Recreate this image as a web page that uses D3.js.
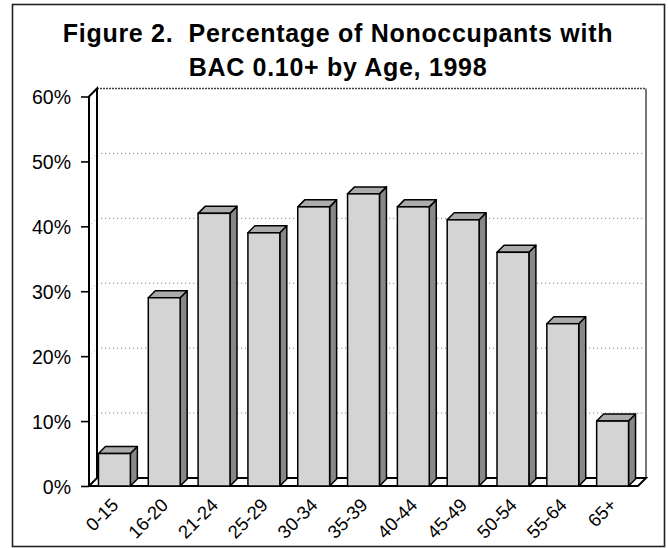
<!DOCTYPE html>
<html>
<head>
<meta charset="utf-8">
<script src="https://cdn.jsdelivr.net/npm/d3@7"></script>
<style>
  html, body { margin: 0; padding: 0; background: #fff; }
  svg { display: block; font-family: "Liberation Sans", Arial, sans-serif; }
</style>
</head>
<body>
<svg id="chart" width="668" height="548"></svg>
<script>
// data
var ageGroups = ["0-15", "16-20", "21-24", "25-29", "30-34", "35-39", "40-44", "45-49", "50-54", "55-64", "65+"];
var pctBAC = [5, 29, 42, 39, 43, 45, 43, 41, 36, 25, 10];
var yTicks = [0, 10, 20, 30, 40, 50, 60];
var titleLines = ["Figure 2.  Percentage of Nonoccupants with", "BAC 0.10+ by Age, 1998"];

var svg = d3.select("#chart");

// depth of the fake 3d box
var dx = 8, dy = 8;
var bdx = 7, bdy = 7;

var x = d3.scaleBand()
    .domain(ageGroups)
    .range([89, 638])
    .paddingInner(0.36)
    .paddingOuter(0.19);

var y = d3.scaleLinear()
    .domain([0, 60])
    .range([486, 96.5]);

// outer frame
svg.append("rect")
    .attr("x", 12.5).attr("y", 4.5)
    .attr("width", 652).attr("height", 542)
    .attr("fill", "none")
    .attr("stroke", "#222")
    .attr("stroke-width", 1.6);

// title
svg.append("g").selectAll("text")
    .data(titleLines)
    .enter().append("text")
    .attr("x", 338)
    .attr("y", function(d, i) { return 42 + i * 33.5; })
    .attr("text-anchor", "middle")
    .attr("font-size", "25px")
    .attr("font-weight", "bold")
    .attr("letter-spacing", "0.7px")
    .style("white-space", "pre")
    .text(function(d) { return d; });

var x0 = x.range()[0], x1 = x.range()[1];

// back wall gridlines (dotted)
var grid = svg.append("g");
grid.selectAll("line.grid")
    .data(yTicks.filter(function(d) { return d > 0 && d < 60; }))
    .enter().append("line")
    .attr("class", "grid")
    .attr("x1", x0 + dx).attr("x2", x1 + dx)
    .attr("y1", function(d) { return y(d) - dy; })
    .attr("y2", function(d) { return y(d) - dy; })
    .attr("stroke", "#888")
    .attr("stroke-width", 1)
    .attr("stroke-dasharray", "1.2,2.8");
// little diagonal on the side wall
grid.selectAll("line.side")
    .data(yTicks.filter(function(d) { return d > 0 && d < 60; }))
    .enter().append("line")
    .attr("class", "side")
    .attr("x1", x0).attr("x2", x0 + dx)
    .attr("y1", function(d) { return y(d); })
    .attr("y2", function(d) { return y(d) - dy; })
    .attr("stroke", "#999")
    .attr("stroke-width", 1)
    .attr("stroke-dasharray", "1,2.5");

// top edge of the back wall
svg.append("line")
    .attr("x1", x0 + dx).attr("x2", x1 + dx)
    .attr("y1", y(60) - dy).attr("y2", y(60) - dy)
    .attr("stroke", "#444")
    .attr("stroke-width", 1.3)
    .attr("stroke-dasharray", "2,1");
// right edge of the back wall
svg.append("line")
    .attr("x1", x1 + dx).attr("x2", x1 + dx)
    .attr("y1", y(60) - dy).attr("y2", y(0) - dy)
    .attr("stroke", "#777")
    .attr("stroke-width", 2);

// side wall (left)
svg.append("path")
    .attr("d", "M" + x0 + "," + y(0) + "L" + x0 + "," + y(60) + "L" + (x0 + dx) + "," + (y(60) - dy) +
               "L" + (x0 + dx) + "," + (y(0) - dy))
    .attr("fill", "none")
    .attr("stroke", "#000")
    .attr("stroke-width", 2);

// floor
svg.append("path")
    .attr("d", "M" + x0 + "," + y(0) + "L" + (x0 + dx) + "," + (y(0) - dy) + "L" + (x1 + dx) + "," + (y(0) - dy) +
               "L" + x1 + "," + y(0) + "Z")
    .attr("fill", "#fff")
    .attr("stroke", "#000")
    .attr("stroke-width", 2)
    .attr("stroke-linejoin", "miter");

// y axis
var yAxis = svg.append("g")
    .attr("transform", "translate(" + x0 + ",0)")
    .call(d3.axisLeft(y).tickValues(yTicks).tickSize(8).tickFormat(function(d) { return d + "%"; }));
yAxis.select(".domain").remove();
yAxis.selectAll(".tick line").attr("stroke", "#000").attr("stroke-width", 1.6);
yAxis.selectAll(".tick text")
    .attr("x", -18)
    .attr("dy", "0.36em")
    .attr("font-size", "19.5px")
    .attr("font-family", "'Liberation Sans', Arial, sans-serif")
    .attr("fill", "#000");

// bars
var bars = svg.append("g").selectAll("g.bar")
    .data(pctBAC)
    .enter().append("g")
    .attr("class", "bar");

function bx(i) { return x(ageGroups[i]); }
var bw = x.bandwidth();

bars.append("path") // side
    .attr("d", function(d, i) {
        var a = bx(i) + bw, t = y(d), b = y(0);
        return "M" + a + "," + b + "L" + a + "," + t + "L" + (a + bdx) + "," + (t - bdy) + "L" + (a + bdx) + "," + (b - bdy) + "Z";
    })
    .attr("fill", "#888")
    .attr("stroke", "#000")
    .attr("stroke-width", 1.5)
    .attr("stroke-linejoin", "round");

bars.append("path") // top
    .attr("d", function(d, i) {
        var a = bx(i), t = y(d);
        return "M" + a + "," + t + "L" + (a + bdx) + "," + (t - bdy) + "L" + (a + bw + bdx) + "," + (t - bdy) + "L" + (a + bw) + "," + t + "Z";
    })
    .attr("fill", "#ababab")
    .attr("stroke", "#000")
    .attr("stroke-width", 1.5)
    .attr("stroke-linejoin", "round");

bars.append("rect") // front
    .attr("x", function(d, i) { return bx(i); })
    .attr("y", function(d) { return y(d); })
    .attr("width", bw)
    .attr("height", function(d) { return y(0) - y(d); })
    .attr("fill", "#d4d4d4")
    .attr("stroke", "#000")
    .attr("stroke-width", 1.5);

// x labels
svg.append("g").selectAll("text")
    .data(ageGroups)
    .enter().append("text")
    .attr("transform", function(d) {
        return "translate(" + (x(d) + bw / 2 - 4) + "," + (y(0) + 11) + ") rotate(-45)";
    })
    .attr("text-anchor", "end")
    .attr("dy", "0.7em")
    .attr("font-size", "18.5px")
    .text(function(d) { return d; });
</script>
</body>
</html>
